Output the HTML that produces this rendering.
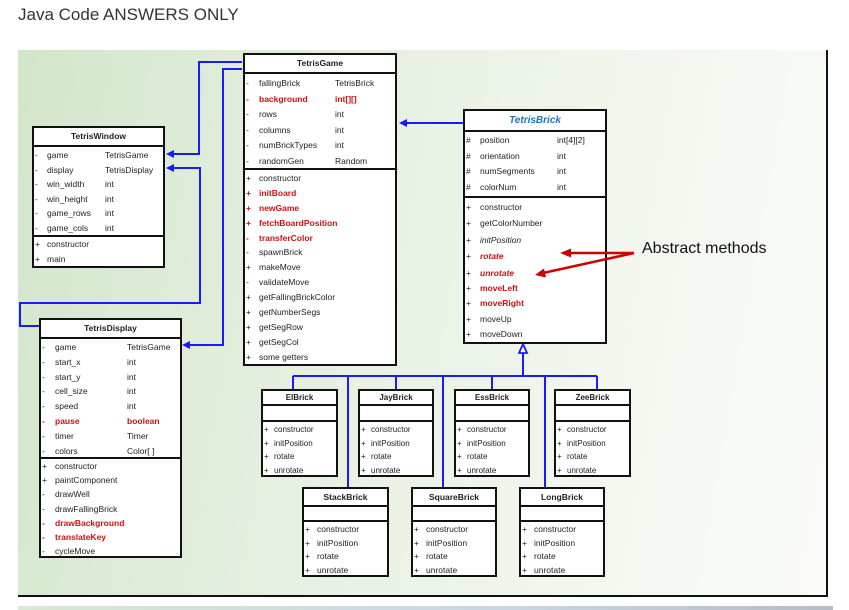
<!DOCTYPE html>
<html><head><meta charset="utf-8"><style>
body{margin:0;width:849px;height:610px;background:#fff;position:relative;overflow:hidden;font-family:"Liberation Sans",sans-serif}
.ttl{position:absolute;left:18px;top:5px;font-size:17px;color:#333}
.panel{position:absolute;left:18px;top:50px;width:808px;height:545px;background:linear-gradient(100deg,#d2e6cb 0%,#e6f0e1 40%,#f3f7f0 75%,#fafbf8 100%);border-right:2px solid #111;border-bottom:2px solid #111}
.strip{position:absolute;left:18px;top:606px;width:815px;height:4px;background:linear-gradient(90deg,#d8e8d2,#c8d6e6 60%,#b8bcc4)}
.box{position:absolute;background:#fff;border:2px solid #111;box-sizing:border-box;font-size:8.5px;color:#222}
.h{font-weight:bold;text-align:center;border-bottom:2px solid #111;box-sizing:border-box}
.s{border-bottom:2px solid #111;box-sizing:border-box;position:relative}
.s:last-child{border-bottom:none}
.r{position:relative;white-space:nowrap}
.r i{position:absolute;left:1px;font-style:normal}
.r b{position:absolute;font-weight:normal}
.r u{position:absolute;text-decoration:none}
.red{color:#d01010;font-weight:bold}
.red b{font-weight:bold}
.it b{font-style:italic}
svg{position:absolute;left:0;top:0}
</style></head><body>
<div class="ttl">Java Code ANSWERS ONLY</div>
<div class="panel"></div>
<div class="strip"></div>

<svg width="849" height="610">
<g stroke="#1a1aff" stroke-width="2" fill="none">
<polyline points="242,62 199,62 199,154 172,154"/>
<polyline points="242,69 223,69 223,345 188,345"/>
<polyline points="172,168 200,168 200,303 20,303 20,326 39,326"/>
<polyline points="463,123 405,123"/>
<line x1="523" y1="353" x2="523" y2="376"/>
<line x1="293" y1="376" x2="597" y2="376"/>
<line x1="293" y1="376" x2="293" y2="389"/>
<line x1="396" y1="376" x2="396" y2="389"/>
<line x1="492" y1="376" x2="492" y2="389"/>
<line x1="597" y1="376" x2="597" y2="389"/>
<line x1="348" y1="376" x2="348" y2="487"/>
<line x1="443" y1="376" x2="443" y2="487"/>
<line x1="545" y1="376" x2="545" y2="487"/>
</g>
<g fill="#1a1aff">
<polygon points="166,154 174,150 174,158"/>
<polygon points="166,168 174,164 174,172"/>
<polygon points="182,345 190,341 190,349"/>
<polygon points="399,123 407,119 407,127"/>
</g>
<polygon points="523,344 519,353 527,353" fill="#fff" stroke="#1a1aff" stroke-width="1.8"/>
</svg>
<div style="position:absolute;left:642px;top:240px;font-size:16px;color:#111">Abstract methods</div>

<!-- TetrisGame -->
<div class="box" style="left:243px;top:53px;width:154px;height:313px">
<div class="h" style="height:19px;line-height:17px">TetrisGame</div>
<div class="s" style="height:96px;padding-top:2px">
<div class="r" style="height:15.5px;line-height:15.5px"><i>-</i><b style="left:14px">fallingBrick</b><u style="left:90px">TetrisBrick</u></div>
<div class="r red" style="height:15.5px;line-height:15.5px"><i>-</i><b style="left:14px">background</b><u style="left:90px">int[][]</u></div>
<div class="r" style="height:15.5px;line-height:15.5px"><i>-</i><b style="left:14px">rows</b><u style="left:90px">int</u></div>
<div class="r" style="height:15.5px;line-height:15.5px"><i>-</i><b style="left:14px">columns</b><u style="left:90px">int</u></div>
<div class="r" style="height:15.5px;line-height:15.5px"><i>-</i><b style="left:14px">numBrickTypes</b><u style="left:90px">int</u></div>
<div class="r" style="height:15.5px;line-height:15.5px"><i>-</i><b style="left:14px">randomGen</b><u style="left:90px">Random</u></div>
</div>
<div class="s" style="padding-top:1px">
<div class="r" style="height:14.9px;line-height:14.9px"><i>+</i><b style="left:14px">constructor</b></div>
<div class="r red" style="height:14.9px;line-height:14.9px"><i>+</i><b style="left:14px">initBoard</b></div>
<div class="r red" style="height:14.9px;line-height:14.9px"><i>+</i><b style="left:14px">newGame</b></div>
<div class="r red" style="height:14.9px;line-height:14.9px"><i>+</i><b style="left:14px">fetchBoardPosition</b></div>
<div class="r red" style="height:14.9px;line-height:14.9px"><i>-</i><b style="left:14px">transferColor</b></div>
<div class="r" style="height:14.9px;line-height:14.9px"><i>-</i><b style="left:14px">spawnBrick</b></div>
<div class="r" style="height:14.9px;line-height:14.9px"><i>+</i><b style="left:14px">makeMove</b></div>
<div class="r" style="height:14.9px;line-height:14.9px"><i>-</i><b style="left:14px">validateMove</b></div>
<div class="r" style="height:14.9px;line-height:14.9px"><i>+</i><b style="left:14px">getFallingBrickColor</b></div>
<div class="r" style="height:14.9px;line-height:14.9px"><i>+</i><b style="left:14px">getNumberSegs</b></div>
<div class="r" style="height:14.9px;line-height:14.9px"><i>+</i><b style="left:14px">getSegRow</b></div>
<div class="r" style="height:14.9px;line-height:14.9px"><i>+</i><b style="left:14px">getSegCol</b></div>
<div class="r" style="height:14.9px;line-height:14.9px"><i>+</i><b style="left:14px">some getters</b></div>
</div></div>

<!-- TetrisWindow -->
<div class="box" style="left:32px;top:126px;width:133px;height:142px">
<div class="h" style="height:19px;line-height:17px">TetrisWindow</div>
<div class="s" style="height:90px;padding-top:1px">
<div class="r" style="height:14.6px;line-height:14.6px"><i>-</i><b style="left:13px">game</b><u style="left:71px">TetrisGame</u></div>
<div class="r" style="height:14.6px;line-height:14.6px"><i>-</i><b style="left:13px">display</b><u style="left:71px">TetrisDisplay</u></div>
<div class="r" style="height:14.6px;line-height:14.6px"><i>-</i><b style="left:13px">win_width</b><u style="left:71px">int</u></div>
<div class="r" style="height:14.6px;line-height:14.6px"><i>-</i><b style="left:13px">win_height</b><u style="left:71px">int</u></div>
<div class="r" style="height:14.6px;line-height:14.6px"><i>-</i><b style="left:13px">game_rows</b><u style="left:71px">int</u></div>
<div class="r" style="height:14.6px;line-height:14.6px"><i>-</i><b style="left:13px">game_cols</b><u style="left:71px">int</u></div>
</div>
<div class="s">
<div class="r" style="height:15px;line-height:15px"><i>+</i><b style="left:13px">constructor</b></div>
<div class="r" style="height:15px;line-height:15px"><i>+</i><b style="left:13px">main</b></div>
</div></div>

<!-- TetrisDisplay -->
<div class="box" style="left:39px;top:318px;width:143px;height:240px">
<div class="h" style="height:19px;line-height:17px">TetrisDisplay</div>
<div class="s" style="height:120px;padding-top:1px">
<div class="r" style="height:14.8px;line-height:14.8px"><i>-</i><b style="left:14px">game</b><u style="left:86px">TetrisGame</u></div>
<div class="r" style="height:14.8px;line-height:14.8px"><i>-</i><b style="left:14px">start_x</b><u style="left:86px">int</u></div>
<div class="r" style="height:14.8px;line-height:14.8px"><i>-</i><b style="left:14px">start_y</b><u style="left:86px">int</u></div>
<div class="r" style="height:14.8px;line-height:14.8px"><i>-</i><b style="left:14px">cell_size</b><u style="left:86px">int</u></div>
<div class="r" style="height:14.8px;line-height:14.8px"><i>-</i><b style="left:14px">speed</b><u style="left:86px">int</u></div>
<div class="r red" style="height:14.8px;line-height:14.8px"><i>-</i><b style="left:14px">pause</b><u style="left:86px">boolean</u></div>
<div class="r" style="height:14.8px;line-height:14.8px"><i>-</i><b style="left:14px">timer</b><u style="left:86px">Timer</u></div>
<div class="r" style="height:14.8px;line-height:14.8px"><i>-</i><b style="left:14px">colors</b><u style="left:86px">Color[ ]</u></div>
</div>
<div class="s">
<div class="r" style="height:14.2px;line-height:14.2px"><i>+</i><b style="left:14px">constructor</b></div>
<div class="r" style="height:14.2px;line-height:14.2px"><i>+</i><b style="left:14px">paintComponent</b></div>
<div class="r" style="height:14.2px;line-height:14.2px"><i>-</i><b style="left:14px">drawWell</b></div>
<div class="r" style="height:14.2px;line-height:14.2px"><i>-</i><b style="left:14px">drawFallingBrick</b></div>
<div class="r red" style="height:14.2px;line-height:14.2px"><i>-</i><b style="left:14px">drawBackground</b></div>
<div class="r red" style="height:14.2px;line-height:14.2px"><i>-</i><b style="left:14px">translateKey</b></div>
<div class="r" style="height:14.2px;line-height:14.2px"><i>-</i><b style="left:14px">cycleMove</b></div>
</div></div>

<!-- TetrisBrick -->
<div class="box" style="left:463px;top:109px;width:144px;height:235px">
<div class="h" style="height:21px;line-height:19px;color:#1b74c8;font-style:italic;font-size:10px">TetrisBrick</div>
<div class="s" style="height:66px;padding-top:1px">
<div class="r" style="height:15.5px;line-height:15.5px"><i>#</i><b style="left:15px">position</b><u style="left:92px">int[4][2]</u></div>
<div class="r" style="height:15.5px;line-height:15.5px"><i>#</i><b style="left:15px">orientation</b><u style="left:92px">int</u></div>
<div class="r" style="height:15.5px;line-height:15.5px"><i>#</i><b style="left:15px">numSegments</b><u style="left:92px">int</u></div>
<div class="r" style="height:15.5px;line-height:15.5px"><i>#</i><b style="left:15px">colorNum</b><u style="left:92px">int</u></div>
</div>
<div class="s" style="padding-top:1px">
<div class="r" style="height:16.4px;line-height:16.4px"><i>+</i><b style="left:15px">constructor</b></div>
<div class="r" style="height:16.4px;line-height:16.4px"><i>+</i><b style="left:15px">getColorNumber</b></div>
<div class="r it" style="height:16.4px;line-height:16.4px"><i>+</i><b style="left:15px">initPosition</b></div>
<div class="r red it" style="height:16.4px;line-height:16.4px"><i style="color:#222;font-weight:normal">+</i><b style="left:15px">rotate</b></div>
<div class="r red it" style="height:16.4px;line-height:16.4px"><i style="color:#222;font-weight:normal">+</i><b style="left:15px">unrotate</b></div>
<div class="r red" style="height:15.5px;line-height:15.5px"><i style="color:#222;font-weight:normal">+</i><b style="left:15px">moveLeft</b></div>
<div class="r red" style="height:15.5px;line-height:15.5px"><i style="color:#222;font-weight:normal">+</i><b style="left:15px">moveRight</b></div>
<div class="r" style="height:15.5px;line-height:15.5px"><i>+</i><b style="left:15px">moveUp</b></div>
<div class="r" style="height:15.5px;line-height:15.5px"><i>+</i><b style="left:15px">moveDown</b></div>
</div></div>

<!-- Row 1 subclasses -->
<div class="box" style="left:261px;top:389px;width:77px;height:88px;font-size:8px">
<div class="h" style="height:15px;line-height:13px">ElBrick</div><div class="s" style="height:16px"></div>
<div class="s" style="padding-top:1px">
<div class="r" style="height:13.5px;line-height:13.5px"><i>+</i><b style="left:11px">constructor</b></div>
<div class="r" style="height:13.5px;line-height:13.5px"><i>+</i><b style="left:11px">initPosition</b></div>
<div class="r" style="height:13.5px;line-height:13.5px"><i>+</i><b style="left:11px">rotate</b></div>
<div class="r" style="height:13.5px;line-height:13.5px"><i>+</i><b style="left:11px">unrotate</b></div></div></div>

<div class="box" style="left:358px;top:389px;width:76px;height:88px;font-size:8px">
<div class="h" style="height:15px;line-height:13px">JayBrick</div><div class="s" style="height:16px"></div>
<div class="s" style="padding-top:1px">
<div class="r" style="height:13.5px;line-height:13.5px"><i>+</i><b style="left:11px">constructor</b></div>
<div class="r" style="height:13.5px;line-height:13.5px"><i>+</i><b style="left:11px">initPosition</b></div>
<div class="r" style="height:13.5px;line-height:13.5px"><i>+</i><b style="left:11px">rotate</b></div>
<div class="r" style="height:13.5px;line-height:13.5px"><i>+</i><b style="left:11px">unrotate</b></div></div></div>

<div class="box" style="left:454px;top:389px;width:76px;height:88px;font-size:8px">
<div class="h" style="height:15px;line-height:13px">EssBrick</div><div class="s" style="height:16px"></div>
<div class="s" style="padding-top:1px">
<div class="r" style="height:13.5px;line-height:13.5px"><i>+</i><b style="left:11px">constructor</b></div>
<div class="r" style="height:13.5px;line-height:13.5px"><i>+</i><b style="left:11px">initPosition</b></div>
<div class="r" style="height:13.5px;line-height:13.5px"><i>+</i><b style="left:11px">rotate</b></div>
<div class="r" style="height:13.5px;line-height:13.5px"><i>+</i><b style="left:11px">unrotate</b></div></div></div>

<div class="box" style="left:554px;top:389px;width:77px;height:88px;font-size:8px">
<div class="h" style="height:15px;line-height:13px">ZeeBrick</div><div class="s" style="height:16px"></div>
<div class="s" style="padding-top:1px">
<div class="r" style="height:13.5px;line-height:13.5px"><i>+</i><b style="left:11px">constructor</b></div>
<div class="r" style="height:13.5px;line-height:13.5px"><i>+</i><b style="left:11px">initPosition</b></div>
<div class="r" style="height:13.5px;line-height:13.5px"><i>+</i><b style="left:11px">rotate</b></div>
<div class="r" style="height:13.5px;line-height:13.5px"><i>+</i><b style="left:11px">unrotate</b></div></div></div>

<!-- Row 2 subclasses -->
<div class="box" style="left:302px;top:487px;width:87px;height:90px;font-size:8.5px">
<div class="h" style="height:18px;line-height:16px">StackBrick</div><div class="s" style="height:15px"></div>
<div class="s" style="padding-top:1px">
<div class="r" style="height:13.5px;line-height:13.5px"><i>+</i><b style="left:13px">constructor</b></div>
<div class="r" style="height:13.5px;line-height:13.5px"><i>+</i><b style="left:13px">initPosition</b></div>
<div class="r" style="height:13.5px;line-height:13.5px"><i>+</i><b style="left:13px">rotate</b></div>
<div class="r" style="height:13.5px;line-height:13.5px"><i>+</i><b style="left:13px">unrotate</b></div></div></div>

<div class="box" style="left:411px;top:487px;width:86px;height:90px;font-size:8.5px">
<div class="h" style="height:18px;line-height:16px">SquareBrick</div><div class="s" style="height:15px"></div>
<div class="s" style="padding-top:1px">
<div class="r" style="height:13.5px;line-height:13.5px"><i>+</i><b style="left:13px">constructor</b></div>
<div class="r" style="height:13.5px;line-height:13.5px"><i>+</i><b style="left:13px">initPosition</b></div>
<div class="r" style="height:13.5px;line-height:13.5px"><i>+</i><b style="left:13px">rotate</b></div>
<div class="r" style="height:13.5px;line-height:13.5px"><i>+</i><b style="left:13px">unrotate</b></div></div></div>

<div class="box" style="left:519px;top:487px;width:86px;height:90px;font-size:8.5px">
<div class="h" style="height:18px;line-height:16px">LongBrick</div><div class="s" style="height:15px"></div>
<div class="s" style="padding-top:1px">
<div class="r" style="height:13.5px;line-height:13.5px"><i>+</i><b style="left:13px">constructor</b></div>
<div class="r" style="height:13.5px;line-height:13.5px"><i>+</i><b style="left:13px">initPosition</b></div>
<div class="r" style="height:13.5px;line-height:13.5px"><i>+</i><b style="left:13px">rotate</b></div>
<div class="r" style="height:13.5px;line-height:13.5px"><i>+</i><b style="left:13px">unrotate</b></div></div></div>

<svg width="849" height="610">
<g stroke="#c00" stroke-width="2.5" fill="#c00">
<line x1="634" y1="253" x2="568" y2="253"/>
<line x1="634" y1="253" x2="543" y2="273"/>
<polygon points="560,253 571,248.5 571,257.5" stroke="none"/>
<polygon points="535,275 544,268.5 546,277.5" stroke="none"/>
</g>
</svg>
</body></html>
